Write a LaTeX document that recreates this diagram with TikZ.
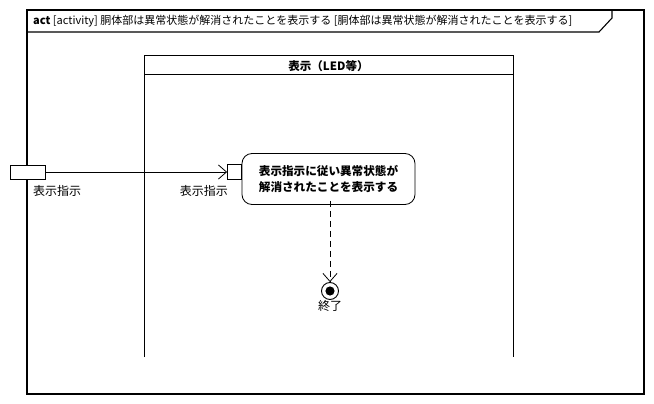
\documentclass[tikz,border=0pt]{standalone}
\usepackage{fontspec}
\setmainfont{Noto Sans CJK JP}
\usetikzlibrary{arrows.meta,positioning}
\begin{document}
\begin{tikzpicture}[x=1pt,y=-1pt,
  frame/.style={draw=black,line width=1.1pt},
  lane/.style={draw=black,line width=1pt},
  pinbox/.style={draw=black,line width=0.8pt,fill=white,minimum width=14pt,minimum height=15pt,inner sep=0pt},
  action/.style={draw=black,line width=0.8pt,rounded corners=10pt,fill=white,minimum width=173pt,minimum height=51pt,align=center,font=\bfseries\fontsize{11.6}{15.5}\selectfont,inner sep=0pt},
  lbl/.style={font=\fontsize{12}{13}\selectfont,inner sep=0pt},
  flow/.style={draw=black,line width=0.8pt,-{Straight Barb[length=8pt,width=14pt,line width=0.8pt]}},
  dflow/.style={flow,dash pattern=on 6pt off 4pt},
]
\useasboundingbox (0,0) rectangle (654,404);
\fill[white] (0,0) rectangle (654,404);

% activity frame and its name tab
\draw[frame] (27,10) rectangle (644,394);
\draw[frame] (27,32) -- (599,32) -- (612,18) -- (612,10);
\node[anchor=west,inner sep=0pt,font=\fontsize{11}{13}\selectfont] (title) at (33,21)
  {\textbf{act} [activity] 胴体部は異常状態が解消されたことを表示する [胴体部は異常状態が解消されたことを表示する]};

% partition
\draw[lane] (144,357) -- (144,56) -- (513,56) -- (513,357);
\draw[lane] (144,75) -- (513,75);
\node[font=\bfseries\fontsize{11.5}{13}\selectfont,inner sep=0pt] (part) at (328.5,66) {表示（LED等）};

% parameter pin on the frame
\node[pinbox,minimum width=35pt,minimum height=14pt] (inpin) at (27.5,172) {};
\node[lbl,anchor=north west] (inlbl) at (33,185) {表示指示};

% action with input pin
\node[action] (act) at (328.5,179) {表示指示に従い異常状態が\\解消されたことを表示する};
\node[pinbox] (apin) at (234.5,172) {};
\node[lbl,anchor=north east] (albl) at (228,185) {表示指示};

% final node
\node[circle,draw=black,line width=0.9pt,minimum size=17pt,inner sep=0pt] (fin) at (330,291) {};
\fill[black] (fin.center) circle (4.6pt);
\node[lbl,anchor=north] (finlbl) at (330,300.5) {終了};

% flows
\draw[flow] (inpin.east) -- (apin.west);
\draw[dflow] ([yshift=4pt]act.south -| fin.north) -- (fin.north);
\end{tikzpicture}
\end{document}
